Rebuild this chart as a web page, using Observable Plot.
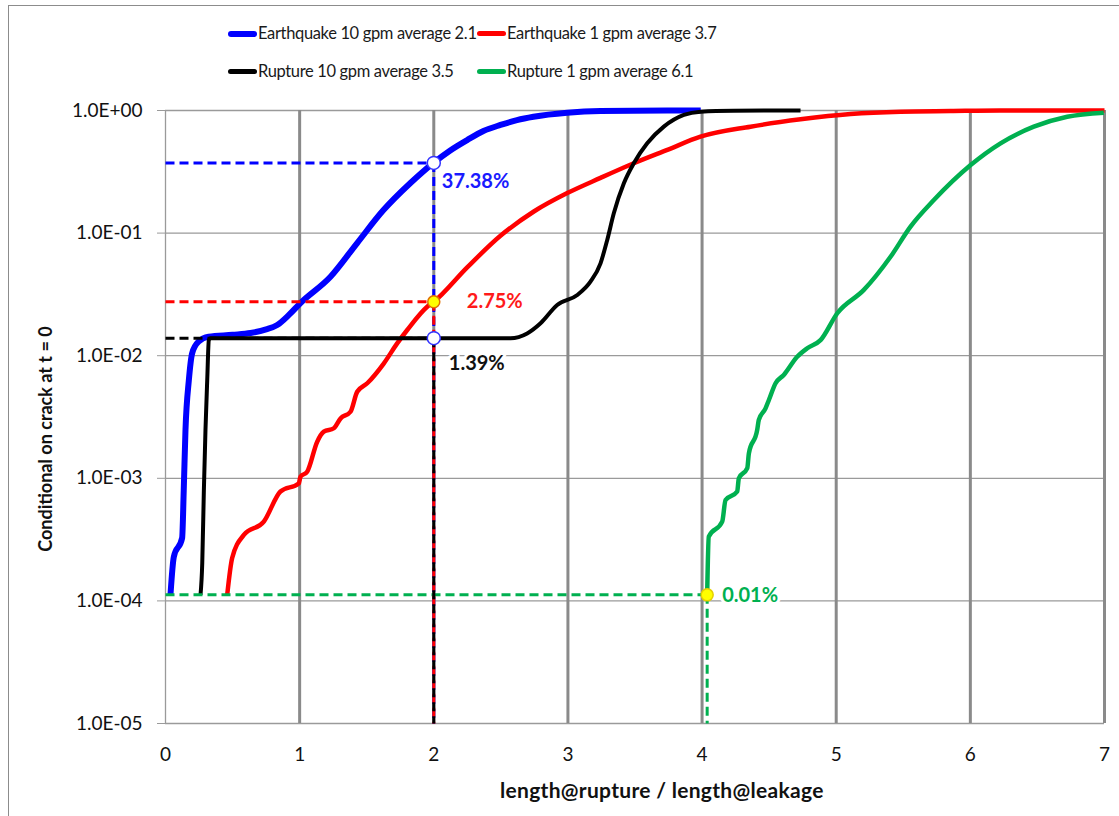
<!DOCTYPE html>
<html>
<head>
<meta charset="utf-8">
<script src="https://cdn.jsdelivr.net/npm/d3@7"></script>
<script src="https://cdn.jsdelivr.net/npm/@observablehq/plot@0.6"></script>
<style>
  body { margin: 0; background: #fff; font-family: Lato, "Open Sans", sans-serif; }
  #wrap { position: relative; width: 1119px; height: 816px; overflow: hidden; background: #fff; }
  #frame { position: absolute; left: 8px; top: 5px; width: 1130px; height: 830px; border: 1.5px solid #8c8c8c; box-sizing: border-box; }
  .leg { position: absolute; font-size: 16.5px; letter-spacing: -0.35px; color: #1a1a1a; white-space: nowrap; line-height: 20px; }
  .leg .sw { display: inline-block; width: 29px; height: 5px; border-radius: 3px; vertical-align: middle; margin-right: 1px; position: relative; top: -1px; }
  #xtitle { position: absolute; font-weight: bold; font-size: 21px; color: #111; white-space: nowrap; letter-spacing: 0.3px; }
  #ytitle { position: absolute; font-weight: bold; font-size: 18px; color: #111; white-space: nowrap; transform: rotate(-90deg); transform-origin: center center; }
  #chart { position: absolute; left: 0; top: 0; }
</style>
</head>
<body>
<div id="wrap">
  <div id="frame"></div>
  <div id="chart"></div>
  <div id="legend"></div>
  <div id="xtitle"></div>
  <div id="ytitle"></div>
</div>
<script>
// ---- Series names / colours ----
const seriesNames = [
  "Earthquake 10 gpm average 2.1",
  "Earthquake 1 gpm average 3.7",
  "Rupture 10 gpm average 3.5",
  "Rupture 1 gpm average 6.1"
];
const seriesColors = ["#0000ff", "#ff0000", "#000000", "#00b050"];

// ---- Earthquake 10 gpm (blue) ----
const eq10X = [0.037, 0.062, 0.124, 0.136, 0.149, 0.174, 0.199, 0.246, 0.321, 0.50, 0.634, 0.75, 0.833, 0.92, 1.006, 1.230, 1.429, 1.625, 1.826, 1.998, 2.12, 2.249, 2.37, 2.497, 2.62, 2.743, 2.994, 3.243, 3.99];
const eq10Y = [1.12e-4, 2.29e-4, 3.26e-4, 8.0e-4, 2.48e-3, 6.3e-3, 1.05e-2, 1.30e-2, 1.43e-2, 1.48e-2, 1.53e-2, 1.64e-2, 1.78e-2, 2.15e-2, 2.69e-2, 4.41e-2, 8.3e-2, 0.154, 0.256, 0.3738, 0.47, 0.574, 0.68, 0.762, 0.835, 0.89, 0.96, 0.99, 1.0];

// ---- Earthquake 1 gpm (red) ----
const eq1X = [0.460, 0.497, 0.584, 0.733, 0.857, 0.994, 1.006, 1.056, 1.131, 1.180, 1.255, 1.305, 1.379, 1.429, 1.504, 1.628, 1.727, 1.802, 1.951, 2.0, 2.249, 2.497, 2.746, 2.995, 3.243, 3.491, 3.741, 3.988, 4.361, 4.734, 5.107, 5.479, 5.852, 6.22, 7.0];
const eq1Y = [1.12e-4, 2.24e-4, 3.45e-4, 4.43e-4, 7.8e-4, 9.1e-4, 1.03e-3, 1.13e-3, 1.99e-3, 2.40e-3, 2.56e-3, 3.08e-3, 3.49e-3, 5.08e-3, 5.96e-3, 8.67e-3, 1.26e-2, 1.62e-2, 2.51e-2, 2.75e-2, 5.25e-2, 0.095, 0.150, 0.212, 0.282, 0.371, 0.477, 0.611, 0.738, 0.847, 0.936, 0.978, 0.99, 1.0, 1.0];

// ---- Rupture 10 gpm (black) ----
const ru10X = [0.261, 0.274, 0.286, 0.298, 0.311, 0.323, 0.335, 2.572, 2.696, 2.796, 2.920, 3.070, 3.168, 3.243, 3.293, 3.342, 3.417, 3.491, 3.591, 3.715, 3.864, 3.988, 4.234, 4.734];
const ru10Y = [1.12e-4, 2.04e-4, 8.0e-4, 2.48e-3, 6.3e-3, 1.34e-2, 1.39e-2, 1.39e-2, 1.52e-2, 1.84e-2, 2.59e-2, 3.13e-2, 4.02e-2, 5.67e-2, 8.79e-2, 0.145, 0.255, 0.371, 0.540, 0.738, 0.919, 0.978, 0.996, 1.0];

// ---- Rupture 1 gpm (green) ----
const ru1X = [4.038, 4.050, 4.150, 4.175, 4.262, 4.274, 4.337, 4.349, 4.411, 4.423, 4.473, 4.498, 4.548, 4.609, 4.709, 4.784, 4.883, 5.008, 5.206, 5.405, 5.554, 5.728, 6.002, 6.225, 6.473, 6.722, 6.995];
const ru1Y = [1.12e-4, 3.34e-4, 4.43e-4, 6.65e-4, 7.8e-4, 1.0e-3, 1.21e-3, 1.60e-3, 2.48e-3, 2.99e-3, 3.72e-3, 4.35e-3, 5.96e-3, 6.97e-3, 9.8e-3, 1.15e-2, 1.34e-2, 2.22e-2, 3.44e-2, 6.41e-2, 0.113, 0.186, 0.359, 0.540, 0.738, 0.889, 0.96];

// ---- Reference read-offs ----
const refX = [2, 2, 2, 4.038];
const refY = [0.3738, 0.0275, 0.0139, 1.12e-4];
const refLabels = ["37.38%", "2.75%", "1.39%", "0.01%"];
const refColors = ["#0000ff", "#ff0000", "#000000", "#00b050"];
const refLabelColors = ["#1a1aff", "#ff1a1a", "#111111", "#00b050"];

// ---- Axis ticks ----
const xTicks = [0, 1, 2, 3, 4, 5, 6, 7];
const yTicks = [1e0, 1e-1, 1e-2, 1e-3, 1e-4, 1e-5];
const yTickLabels = ["1.0E+00", "1.0E-01", "1.0E-02", "1.0E-03", "1.0E-04", "1.0E-05"];
const xTitle = "length@rupture / length@leakage";
const yTitle = "Conditional on crack at t = 0";

const yMin = 1e-5;

const seriesX = [eq10X, eq1X, ru10X, ru1X];
const seriesY = [eq10Y, eq1Y, ru10Y, ru1Y];
const widths = [6, 4.5, 4, 4.5];
const curves = seriesNames.map((name, i) => seriesX[i].map((x, j) => ({name, x, y: seriesY[i][j]})));

const refs = refX.map((x, i) => ({x, y: refY[i], label: refLabels[i], color: refColors[i], lc: refLabelColors[i]}));

const marks = [
  Plot.ruleY(yTicks, {stroke: "#9a9a9a", strokeWidth: 1.3}),
  Plot.ruleX(xTicks.filter(d => d > 0), {stroke: "#8a8a8a", strokeWidth: 3}),
  Plot.ruleX([0], {stroke: "#9a9a9a", strokeWidth: 1.3}),
  Plot.axisY({ticks: yTicks, tickSize: 8, tickPadding: 15, stroke: "#9a9a9a", fontSize: 19, fill: "#111",
    tickFormat: d => yTickLabels[yTicks.findIndex(t => Math.abs(Math.log10(t) - Math.log10(d)) < 1e-6)], label: null}),
  Plot.axisX({ticks: xTicks, tickSize: 0, tickPadding: 24, fontSize: 19, fill: "#111", label: null, tickFormat: d => String(d)}),
];
curves.forEach((c, i) => {
  marks.push(Plot.line(c, {x: "x", y: "y", stroke: seriesColors[i], strokeWidth: widths[i], strokeLinejoin: "round", strokeLinecap: "butt", curve: "monotone-x"}));
});
refs.forEach(r => {
  marks.push(Plot.link([r], {x1: 0, y1: "y", x2: "x", y2: "y", stroke: r.color, strokeWidth: 3, strokeDasharray: "9,5"}));
});
refs.forEach(r => {
  marks.push(Plot.link([r], {x1: "x", y1: "y", x2: "x", y2: yMin, stroke: r.color, strokeWidth: 3, strokeDasharray: "9,5"}));
});
marks.push(Plot.dot([refs[0], refs[2]], {x: "x", y: "y", r: 6.5, fill: "white", stroke: "#3333ff", strokeWidth: 1.5}));
marks.push(Plot.dot([refs[1]], {x: "x", y: "y", r: 6, fill: "#ffff00", stroke: "#e07000", strokeWidth: 1.5}));
marks.push(Plot.dot([refs[3]], {x: "x", y: "y", r: 6, fill: "#ffff00", stroke: "#e6d000", strokeWidth: 1.5}));
const labelOff = [[8, 19], [33, 0], [15, 25], [15, 1]];
refs.forEach((r, i) => {
  marks.push(Plot.text([r], {x: "x", y: "y", text: "label", fill: r.lc, fontWeight: "bold", fontSize: 20, textAnchor: "start",
    dx: labelOff[i][0], dy: labelOff[i][1], stroke: "white", strokeWidth: 6, paintOrder: "stroke"}));
});

const chart = Plot.plot({
  width: 1119, height: 816,
  marginLeft: 165, marginRight: 15, marginTop: 110, marginBottom: 93,
  style: {fontFamily: "Lato, 'Open Sans', sans-serif", background: "transparent", overflow: "visible"},
  x: {domain: [0, 7]},
  y: {type: "log", domain: [1e-5, 1]},
  marks
});
document.getElementById("chart").appendChild(chart);

const legPos = [[228, 33], [477, 33], [228, 71], [477, 71]];
const legend = document.getElementById("legend");
seriesNames.forEach((name, i) => {
  const d = document.createElement("div");
  d.className = "leg";
  d.style.left = legPos[i][0] + "px";
  d.style.top = (legPos[i][1] - 10) + "px";
  const sw = document.createElement("span");
  sw.className = "sw";
  sw.style.background = seriesColors[i];
  if (i === 0) sw.style.height = "6px";
  d.appendChild(sw);
  d.appendChild(document.createTextNode(name));
  legend.appendChild(d);
});
const xt = document.getElementById("xtitle");
xt.textContent = xTitle;
xt.style.left = "500px"; xt.style.top = "777px";
const yt = document.getElementById("ytitle");
yt.textContent = yTitle;
yt.style.left = (45 - 130) + "px"; yt.style.top = "428px"; yt.style.width = "260px"; yt.style.textAlign = "center";
</script>
</body>
</html>
